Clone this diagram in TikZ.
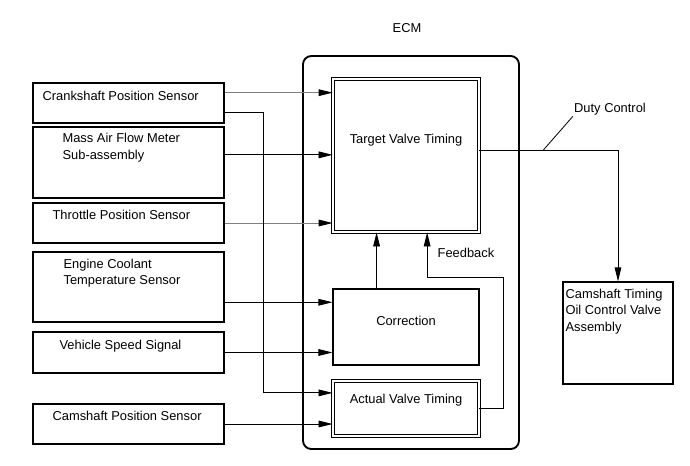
\documentclass[tikz,border=0pt]{standalone}
\usepackage{fontspec}
\setmainfont{Liberation Sans}
\usetikzlibrary{positioning, calc, arrows.meta}

\begin{document}
\begin{tikzpicture}[x=0.03cm, y=-0.03cm,
  font=\fontsize{11}{14}\selectfont,
  >={Triangle[length=4.2mm, width=2mm]},
  sensor/.style={draw, line width=1.1pt, minimum width=5.73cm, inner sep=0},
  block/.style={draw, line width=0.9pt, minimum width=4.38cm, inner sep=0},
  dblock/.style={block, double, line width=0.7pt, double distance=1.6pt},
  txt/.style={inner sep=0, align=left, anchor=west},
  sig/.style={->, line width=0.7pt},
  dim/.style={-{Triangle[length=4.2mm, width=2mm, color=black, fill=black]}, line width=0.8pt, black!50}]
  \useasboundingbox (0,0) rectangle (690,465);

  \node[sensor, minimum height=1.2cm] (crank) at (128.5,103) {};
  \node[sensor, minimum height=2.13cm] (maf) at (128.5,162.5) {};
  \node[sensor, minimum height=1.2cm] (tps) at (128.5,223) {};
  \node[sensor, minimum height=2.1cm] (ect) at (128.5,287) {};
  \node[sensor, minimum height=1.23cm] (vss) at (128.5,352.5) {};
  \node[sensor, minimum height=1.2cm] (cmp) at (128.5,424) {};

  \node[txt] (crankt) at ($(crank.north west)+(10,14)$) {Crankshaft Position Sensor};
  \node[txt] (maft) at ($(maf.north west)+(30,21.5)$) {Mass Air Flow Meter\\Sub-assembly};
  \node[txt] (tpst) at ($(tps.north west)+(20,13)$) {Throttle Position Sensor};
  \node[txt] (ectt) at ($(ect.north west)+(31,22)$) {Engine Coolant\\Temperature Sensor};
  \node[txt] (vsst) at ($(vss.north west)+(27,15)$) {Vehicle Speed Signal};
  \node[txt] (cmpt) at ($(cmp.north west)+(20,13)$) {Camshaft Position Sensor};

  \node[draw, line width=1.6pt, rounded corners=0.25cm, minimum width=6.48cm,
    minimum height=11.79cm, inner sep=0] (ecm) at (411,252.5) {};
  \node (ecml) at (407,28) {ECM};

  \node[dblock, minimum height=4.59cm] (tgt) at (406,155.5) {};
  \node[block, minimum height=2.28cm] (cor) at (406,327) {};
  \node[dblock, minimum height=1.65cm] (act) at (406,408.5) {};
  \node[inner sep=0] (tgtt) at ($(tgt.north)+(0,62)$) {Target Valve Timing};
  \node[inner sep=0] (cort) at ($(cor.north)+(0,32)$) {Correction};
  \node[inner sep=0] (actt) at ($(act.north)+(0,20)$) {Actual Valve Timing};

  \node[draw, line width=1.1pt, minimum width=3.3cm, minimum height=3.06cm,
    inner sep=0] (ocv) at (618,333) {};
  \node[txt] (ocvt) at ($(ocv.north west)+(3,30)$) {Camshaft Timing\\Oil Control Valve\\Assembly};

  \node[inner sep=1pt] (duty) at (610,109) {Duty Control};
  \node[inner sep=0] (fbl) at (466,253) {Feedback};

  \coordinate (c1) at ($(crank.north east)!.25!(crank.south east)$);
  \coordinate (c2) at ($(crank.north east)!.725!(crank.south east)$);
  \coordinate (m1) at ($(maf.north east)!.394!(maf.south east)$);
  \coordinate (e1) at ($(ect.north east)!.714!(ect.south east)$);
  \coordinate (k1) at ($(cor.north west)!.3!(cor.north east)$);
  \coordinate (fb) at ($(tgt.south west)!.644!(tgt.south east)$);
  \coordinate (d1) at ($(tgt.north east)!.464!(tgt.south east)$);

  \path[dim]
  (c1) edge (c1 -| tgt.west)
  (tps.east) edge (tps.east -| tgt.west);

  \path[sig]
  (m1) edge (m1 -| tgt.west)
  (e1) edge (e1 -| cor.west)
  (vss.east) edge (vss.east -| cor.west)
  (cmp.east) edge (cmp.east -| act.west)
  (k1) edge (k1 |- tgt.south);

  \draw[sig] (c2) -- ++(39,0) |- ($(act.north west)!.22!(act.south west)$);
  \draw[sig] (act.east) -| ++(24,-131) -| (fb);
  \draw[sig] (d1) -| (ocv.north);
  \draw[line width=0.7pt] ($(d1)+(64,0)$) -- (duty.south west);
\end{tikzpicture}
\end{document}
